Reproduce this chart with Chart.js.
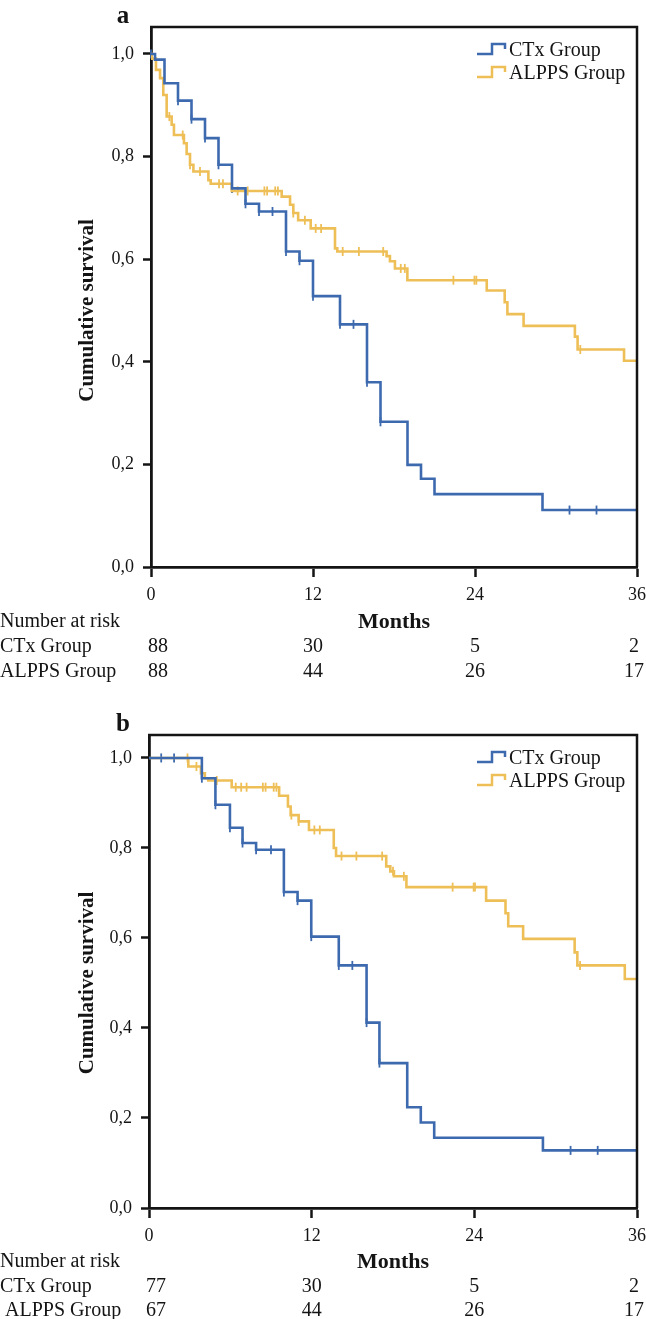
<!DOCTYPE html>
<html>
<head>
<meta charset="utf-8">
<script src="https://cdn.jsdelivr.net/npm/chart.js@4.4.1/dist/chart.umd.min.js"></script>
<style>
  body { margin: 0; background: #fff; }
  canvas { display: block; }
</style>
</head>
<body>
<canvas id="panel-a" width="646" height="700"></canvas>
<canvas id="panel-b" width="646" height="619"></canvas>
<script>
// values
const x_ticks = [0, 12, 24, 36]
const y_ticks = [0, 0.2, 0.4, 0.6, 0.8, 1.0]
const groups = ['CTx Group', 'ALPPS Group']

// panel a - CTx
const ctx_a_months = [0, 0.3, 1, 2, 3, 4, 5, 6, 7, 8, 10, 11, 12, 14, 16, 17, 19, 20, 21, 29, 36]
const ctx_a_surv = [1.0, 0.989, 0.943, 0.909, 0.873, 0.836, 0.784, 0.738, 0.708, 0.693, 0.615, 0.597, 0.528, 0.473, 0.360, 0.283, 0.199, 0.172, 0.142, 0.111, 0.111]
const ctx_a_censored = [0, 2, 3, 4, 5, 6, 7, 8, 9, 10, 11, 12, 14, 15, 16, 17, 31, 33]
// panel a - ALPPS
const alpps_a_months = [0, 0.05, 0.37, 0.67, 0.91, 1.16, 1.53, 1.7, 2.44, 2.64, 2.89, 3.14, 4.25, 4.42, 5.98, 9.68, 10.3, 10.54, 10.9, 11.83, 13.63, 13.8, 17.45, 17.7, 18.07, 18.99, 24.87, 26.2, 26.4, 27.6, 31.4, 31.6, 35.04, 36]
const alpps_a_surv = [1.0, 0.991, 0.969, 0.953, 0.920, 0.878, 0.862, 0.842, 0.826, 0.805, 0.784, 0.771, 0.754, 0.747, 0.733, 0.722, 0.706, 0.690, 0.676, 0.660, 0.621, 0.615, 0.606, 0.596, 0.582, 0.559, 0.539, 0.516, 0.493, 0.470, 0.449, 0.424, 0.402, 0.402]
const alpps_a_censored = [1.36, 2.35, 2.89, 3.63, 5.04, 5.33, 6.42, 7.16, 8.4, 8.6, 9.2, 9.4, 10.54, 11.4, 12.2, 12.6, 14.2, 15.4, 17.2, 18.5, 18.8, 22.4, 23.96, 24.1, 31.8]
const risk_ctx_a = [88, 30, 5, 2]
const risk_alpps_a = [88, 44, 26, 17]

// panel b - CTx
const ctx_b_months = [0, 3.9, 4.9, 5.97, 6.9, 7.9, 9.95, 10.96, 11.97, 14.0, 16.05, 17.0, 19.05, 20.05, 21.04, 29.06, 36]
const ctx_b_surv = [1.0, 0.955, 0.896, 0.845, 0.811, 0.796, 0.702, 0.683, 0.603, 0.539, 0.412, 0.322, 0.224, 0.190, 0.156, 0.128, 0.128]
const ctx_b_censored = [0.9, 1.85, 3.9, 4.9, 5.97, 6.9, 7.9, 9.0, 9.95, 10.96, 11.97, 14.0, 15.0, 16.05, 17.0, 31.1, 33.1]
// panel b - ALPPS
const alpps_b_months = [0, 2.9, 3.83, 4.12, 4.37, 6.1, 9.6, 10.25, 10.45, 11.04, 11.8, 13.63, 13.8, 17.5, 17.8, 18.07, 18.99, 24.87, 26.3, 26.5, 27.6, 31.4, 31.6, 35.1, 36]
const alpps_b_surv = [1.0, 0.981, 0.966, 0.955, 0.950, 0.935, 0.916, 0.892, 0.873, 0.859, 0.840, 0.800, 0.782, 0.759, 0.748, 0.737, 0.713, 0.683, 0.655, 0.626, 0.598, 0.568, 0.539, 0.509, 0.509]
const alpps_b_censored = [2.84, 3.5, 5.0, 6.4, 6.8, 7.2, 8.4, 8.6, 9.2, 9.4, 10.5, 11.04, 12.2, 12.6, 14.2, 15.3, 17.2, 18.0, 18.8, 22.4, 23.95, 24.05, 31.8]
const risk_ctx_b = [77, 30, 5, 2]
const risk_alpps_b = [67, 44, 26, 17]


const blue = '#3d6aae'
const yellow = '#eebf57'
const ink = '#141414'
const serif = "'Liberation Serif', 'DejaVu Serif', serif"

Chart.defaults.font.family = serif
Chart.defaults.color = ink

function steps(months, surv) {
  return months.map((m, i) => ({x: m, y: surv[i]}))
}

// survival level at a censoring time, looked up on the curve
function marks(months, surv, censored) {
  return censored.map(t => {
    let s = surv[0]
    months.forEach((m, i) => { if (m <= t + 1e-9) s = surv[i] })
    return {x: t, y: s}
  })
}

function curve(label, color, months, surv) {
  return {
    label: label, data: steps(months, surv), borderColor: color,
    borderWidth: 2.6, stepped: 'before', pointRadius: 0, fill: false
  }
}

function ticks_of(color, months, surv, censored) {
  return {
    data: marks(months, surv, censored), showLine: false, borderColor: color,
    pointStyle: 'line', rotation: 90, pointRadius: 4.5, borderWidth: 1.8, clip: false
  }
}

// frame, titles, legend and number at risk table
let extras = {
  id: 'extras',
  afterDraw(chart, args, o) {
    let c = chart.ctx
    let a = chart.chartArea
    let x = chart.scales.x
    let y = chart.scales.y
    c.save()

    c.strokeStyle = ink
    c.lineWidth = 2.5
    c.beginPath()
    c.moveTo(a.left - 1, a.top)
    c.lineTo(a.right, a.top)
    c.lineTo(a.right, a.bottom)
    c.stroke()

    c.fillStyle = ink
    c.font = 'bold 25px ' + serif
    c.textAlign = 'center'
    c.textBaseline = 'alphabetic'
    c.fillText(o.letter, 123, a.top - 4)

    c.save()
    c.translate(88, (y.getPixelForValue(0) + y.getPixelForValue(1)) / 2)
    c.rotate(-Math.PI / 2)
    c.font = 'bold 21px ' + serif
    c.textBaseline = 'middle'
    c.fillText('Cumulative survival', 0, 0)
    c.restore()

    // legend with the little step glyph
    c.font = '20px ' + serif
    c.textAlign = 'left'
    c.textBaseline = 'middle'
    ;[blue, yellow].forEach((col, i) => {
      let yy = a.top + 24 + i * 23
      let x0 = 477
      c.strokeStyle = col
      c.lineWidth = 2.5
      c.beginPath()
      c.moveTo(x0, yy + 3)
      c.lineTo(x0 + 15, yy + 3)
      c.lineTo(x0 + 15, yy - 7)
      c.lineTo(x0 + 28, yy - 7)
      c.lineTo(x0 + 28, yy - 2)
      c.stroke()
      c.fillStyle = ink
      c.fillText(groups[i], 509, yy)
    })

    // number at risk
    let rows = o.rows.map(r => a.bottom + r)
    c.fillText('Number at risk', 0, rows[0])
    c.font = 'bold 22px ' + serif
    c.textAlign = 'center'
    c.fillText('Months', (a.left + a.right) / 2, rows[0])
    c.font = '20px ' + serif
    c.textAlign = 'left'
    c.fillText(groups[0], 0, rows[1])
    c.fillText(o.pad + groups[1], 0, rows[2])
    ;[o.risk_ctx, o.risk_alpps].forEach((vals, r) => {
      vals.forEach((v, i) => {
        let px = x.getPixelForValue(x_ticks[i])
        if (i == 0) { c.textAlign = 'left'; px -= 3 }
        else { c.textAlign = 'center'; if (i == vals.length - 1) px -= 3 }
        c.fillText(String(v), px, rows[r + 1])
      })
    })
    c.restore()
  }
}

function make_panel(id, p) {
  let canvas = document.getElementById(id)
  let H = canvas.height
  let no_pad = s => { s.paddingLeft = 0; s.paddingRight = 0; s.paddingTop = 0; s.paddingBottom = 0 }
  return new Chart(canvas, {
    type: 'line',
    data: {
      datasets: [
        curve(groups[0], blue, p.ctx_m, p.ctx_s),
        curve(groups[1], yellow, p.al_m, p.al_s),
        ticks_of(blue, p.ctx_m, p.ctx_s, p.ctx_c),
        ticks_of(yellow, p.al_m, p.al_s, p.al_c)
      ]
    },
    options: {
      responsive: false,
      animation: false,
      events: [],
      layout: { padding: { left: 0, right: 646 - p.right, top: p.top, bottom: 0 } },
      scales: {
        x: {
          type: 'linear', min: 0, max: 36,
          afterBuildTicks: s => { s.ticks = x_ticks.map(v => ({value: v})) },
          afterFit: s => { s.height = H - p.bottom; no_pad(s) },
          ticks: { font: { size: 18 }, color: ink, padding: 7, maxRotation: 0 },
          grid: { drawOnChartArea: false, tickLength: 10, tickWidth: 2.5, tickColor: ink },
          border: { color: ink, width: 2.8 }
        },
        y: {
          type: 'linear', min: 0, max: p.y_max,
          afterBuildTicks: s => { s.ticks = y_ticks.map(v => ({value: v})) },
          afterFit: s => { s.width = p.left; no_pad(s) },
          ticks: { font: { size: 18 }, color: ink, padding: 9, callback: v => v.toFixed(1).replace('.', ',') },
          grid: { drawOnChartArea: false, tickLength: 8, tickWidth: 2.5, tickColor: ink },
          border: { color: ink, width: 2.8 }
        }
      },
      plugins: {
        legend: { display: false },
        tooltip: { enabled: false },
        extras: { letter: p.letter, rows: p.rows, pad: p.pad, risk_ctx: p.risk_ctx, risk_alpps: p.risk_alpps }
      }
    },
    plugins: [extras]
  })
}

make_panel('panel-a', {
  letter: 'a', left: 151, right: 637, top: 27, bottom: 567, y_max: 1.0526,
  ctx_m: ctx_a_months, ctx_s: ctx_a_surv, ctx_c: ctx_a_censored,
  al_m: alpps_a_months, al_s: alpps_a_surv, al_c: alpps_a_censored,
  rows: [55, 80, 105], pad: '', risk_ctx: risk_ctx_a, risk_alpps: risk_alpps_a
})

make_panel('panel-b', {
  letter: 'b', left: 149, right: 637, top: 35, bottom: 508, y_max: 1.051,
  ctx_m: ctx_b_months, ctx_s: ctx_b_surv, ctx_c: ctx_b_censored,
  al_m: alpps_b_months, al_s: alpps_b_surv, al_c: alpps_b_censored,
  rows: [54, 79, 103], pad: ' ', risk_ctx: risk_ctx_b, risk_alpps: risk_alpps_b
})
</script>
</body>
</html>
